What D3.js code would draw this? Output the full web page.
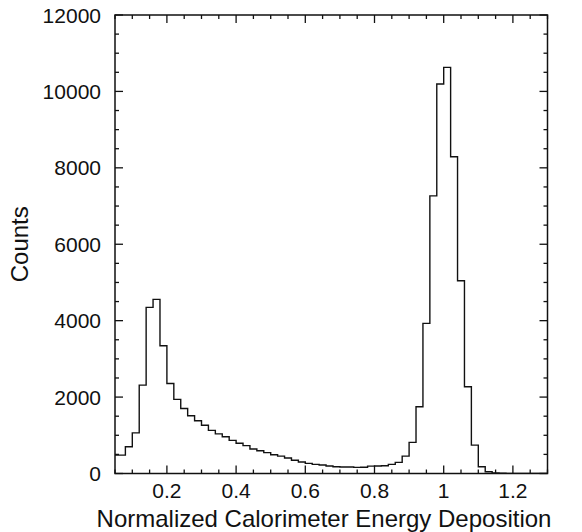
<!DOCTYPE html>
<html>
<head>
<meta charset="utf-8">
<script src="https://cdn.jsdelivr.net/npm/d3@7/dist/d3.min.js"></script>
<style>
  html, body { margin: 0; padding: 0; background: #fff; }
  svg text { font-family: "Liberation Sans", Arial, Helvetica, sans-serif; fill: #111; }
</style>
</head>
<body>
<svg id="chart" width="582" height="532"></svg>
<script>
// ---- data ----
const binStart = 0.04;
const binWidth = 0.02;
const counts = [
  480, 482, 700, 1062, 2314, 4348, 4557, 3344, 2355, 1940,
  1703, 1511, 1380, 1263, 1128, 1036, 961, 866, 792, 730,
  643, 594, 547, 490, 455, 405, 347, 302, 266, 240,
  222, 196, 175, 170, 172, 160, 162, 194, 196, 202,
  238, 290, 455, 814, 1746, 3930, 7265, 10195, 10630, 8290,
  5045, 2270, 743, 175, 45, 15, 5, 0, 0, 0,
  0, 0, 0
];
const xTicks = [0.2, 0.4, 0.6, 0.8, 1.0, 1.2];
const xTickLabels = ["0.2", "0.4", "0.6", "0.8", "1", "1.2"];
const yTicks = [0, 2000, 4000, 6000, 8000, 10000, 12000];
const yTickLabels = ["0", "2000", "4000", "6000", "8000", "10000", "12000"];
const xDomain = [0.05, 1.3];
const yDomain = [0, 12000];
const xTitle = "Normalized Calorimeter Energy Deposition";
const yTitle = "Counts";

// ---- layout ----
const L = 115, R = 547.5, T = 15, B = 473.5;
const svg = d3.select("#chart");
const x = d3.scaleLinear().domain(xDomain).range([L, R]);
const y = d3.scaleLinear().domain(yDomain).range([B, T]);

svg.append("defs").append("clipPath").attr("id", "clip")
  .append("rect").attr("x", L).attr("y", T).attr("width", R - L).attr("height", B - T);

// histogram step line
const pts = [];
counts.forEach((c, i) => {
  const x0 = binStart + i * binWidth, x1 = x0 + binWidth;
  pts.push([x0, c]); pts.push([x1, c]);
});
svg.append("path")
  .attr("clip-path", "url(#clip)")
  .attr("d", d3.line().x(d => x(d[0])).y(d => y(d[1]))(pts))
  .attr("fill", "none").attr("stroke", "#111").attr("stroke-width", 1.4);

// minor/major ticks on all sides (inward)
const xMinor = d3.range(0.05, 1.3001, 0.05).filter(v => !xTicks.some(t => Math.abs(t - v) < 1e-6));
const yMinor = d3.range(0, 12001, 500).filter(v => v % 2000 !== 0);
const tickG = svg.append("g").attr("stroke", "#111").attr("stroke-width", 1.3);
xTicks.forEach(v => {
  tickG.append("line").attr("x1", x(v)).attr("x2", x(v)).attr("y1", B).attr("y2", B - 8);
  tickG.append("line").attr("x1", x(v)).attr("x2", x(v)).attr("y1", T).attr("y2", T + 8);
});
xMinor.forEach(v => {
  tickG.append("line").attr("x1", x(v)).attr("x2", x(v)).attr("y1", B).attr("y2", B - 4);
  tickG.append("line").attr("x1", x(v)).attr("x2", x(v)).attr("y1", T).attr("y2", T + 4);
});
yTicks.forEach(v => {
  tickG.append("line").attr("y1", y(v)).attr("y2", y(v)).attr("x1", L).attr("x2", L + 8);
  tickG.append("line").attr("y1", y(v)).attr("y2", y(v)).attr("x1", R).attr("x2", R - 8);
});
yMinor.forEach(v => {
  tickG.append("line").attr("y1", y(v)).attr("y2", y(v)).attr("x1", L).attr("x2", L + 4);
  tickG.append("line").attr("y1", y(v)).attr("y2", y(v)).attr("x1", R).attr("x2", R - 4);
});

// frame
svg.append("rect").attr("x", L).attr("y", T).attr("width", R - L).attr("height", B - T)
  .attr("fill", "none").attr("stroke", "#111").attr("stroke-width", 1.5);

// tick labels
svg.append("g").selectAll("text").data(xTicks).join("text")
  .attr("x", d => x(d)).attr("y", B + 24)
  .attr("text-anchor", "middle").attr("font-size", 21)
  .text((d, i) => xTickLabels[i]);
svg.append("g").selectAll("text").data(yTicks).join("text")
  .attr("x", L - 14).attr("y", d => y(d)).attr("dy", "0.36em")
  .attr("text-anchor", "end").attr("font-size", 21)
  .text((d, i) => yTickLabels[i]);

// axis titles
svg.append("text").attr("x", 324).attr("y", 527)
  .attr("text-anchor", "middle").attr("font-size", 24).text(xTitle);
svg.append("text").attr("transform", `translate(28,${(T + B) / 2}) rotate(-90)`)
  .attr("text-anchor", "middle").attr("font-size", 24).text(yTitle);
</script>
</body>
</html>
